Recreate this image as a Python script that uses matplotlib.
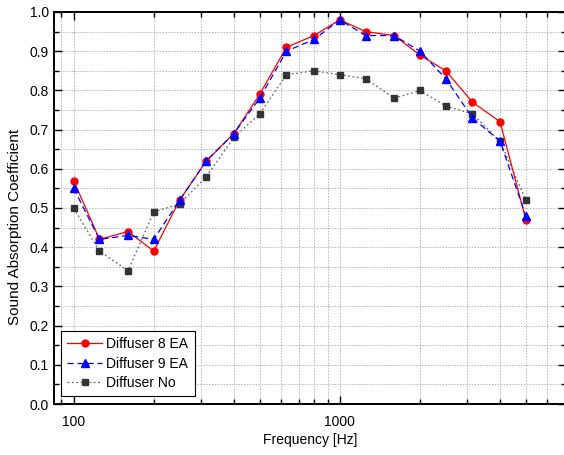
import matplotlib
matplotlib.use("Agg")
import matplotlib.pyplot as plt
from matplotlib.ticker import FixedLocator, NullFormatter, MultipleLocator, FormatStrFormatter

freqs = [100, 125, 160, 200, 250, 315, 400, 500, 630, 800, 1000, 1250, 1600, 2000, 2500, 3150, 4000, 5000]
diff8 = [0.57, 0.42, 0.44, 0.39, 0.52, 0.62, 0.69, 0.79, 0.91, 0.94, 0.98, 0.95, 0.94, 0.89, 0.85, 0.77, 0.72, 0.47]
diff9 = [0.55, 0.42, 0.43, 0.42, 0.52, 0.62, 0.69, 0.78, 0.90, 0.93, 0.98, 0.94, 0.94, 0.90, 0.83, 0.73, 0.67, 0.48]
diffno = [0.50, 0.39, 0.34, 0.49, 0.51, 0.58, 0.68, 0.74, 0.84, 0.85, 0.84, 0.83, 0.78, 0.80, 0.76, 0.74, 0.67, 0.52]
labels = ["Diffuser 8 EA", "Diffuser 9 EA", "Diffuser No"]

plt.rcParams['font.family'] = ['Liberation Sans', 'DejaVu Sans']

W, H = 564, 455
fig = plt.figure(figsize=(W / 100, H / 100), dpi=100)
left_px, right_px, top_px, bot_px = 53.5, 566, 12, 404
ax = fig.add_axes([left_px / W, (H - bot_px) / H, (right_px - left_px) / W, (bot_px - top_px) / H])

ax.plot(freqs, diff8, color='#ff0000', linestyle='-', linewidth=0.9, marker='o', markersize=5,
        markerfacecolor='#ff0000', markeredgecolor='#ff0000', label=labels[0], zorder=4)
ax.plot(freqs, diff9, color='#0000ff', linestyle=(0, (5, 3)), linewidth=0.9, marker='^', markersize=6,
        markerfacecolor='#0000ff', markeredgecolor='#0000ff', label=labels[1], zorder=5)
ax.plot(freqs, diffno, color='#666666', linestyle=(0, (1.5, 2)), linewidth=0.9, marker='s', markersize=4.5,
        markerfacecolor='#333333', markeredgecolor='#333333', label=labels[2], zorder=3)

ax.set_xscale('log')
ax.set_xlim(84, 7075)
ax.set_ylim(0, 1.0)

ax.xaxis.set_major_locator(FixedLocator([100, 1000]))
ax.xaxis.set_major_formatter(FormatStrFormatter('%d'))
minor = [90] + [i * 100 for i in range(2, 10)] + [i * 1000 for i in range(2, 8)]
ax.xaxis.set_minor_locator(FixedLocator(minor))
ax.xaxis.set_minor_formatter(NullFormatter())
ax.yaxis.set_major_locator(MultipleLocator(0.1))
ax.yaxis.set_minor_locator(MultipleLocator(0.05))
ax.yaxis.set_major_formatter(FormatStrFormatter('%.1f'))

ax.grid(True, which='both', color='#b4b4b4', linestyle=(0, (1.5, 1.5)), linewidth=0.7)
ax.set_axisbelow(True)

ax.tick_params(which='both', direction='in', top=True, right=True, labelsize=10, width=1.0)
ax.tick_params(which='major', length=6)
ax.tick_params(which='minor', length=3.5)
ax.tick_params(axis='x', pad=8)

for s in ax.spines.values():
    s.set_linewidth(1.4)

ax.set_xlabel('Frequency [Hz]', fontsize=10, labelpad=3)
ax.set_ylabel('Sound Absorption Coefficient', fontsize=11)
ax.yaxis.set_label_coords((22 - left_px) / (right_px - left_px), (bot_px - 227) / (bot_px - top_px))

leg = ax.legend(loc='lower left', fontsize=10, frameon=True, fancybox=False, edgecolor='black',
                borderaxespad=0.55, handlelength=2.5, labelspacing=0.4, borderpad=0.45, handletextpad=0.3)
leg.get_frame().set_linewidth(0.8)
leg.get_frame().set_alpha(1)

fig.savefig('out.png', dpi=100)
